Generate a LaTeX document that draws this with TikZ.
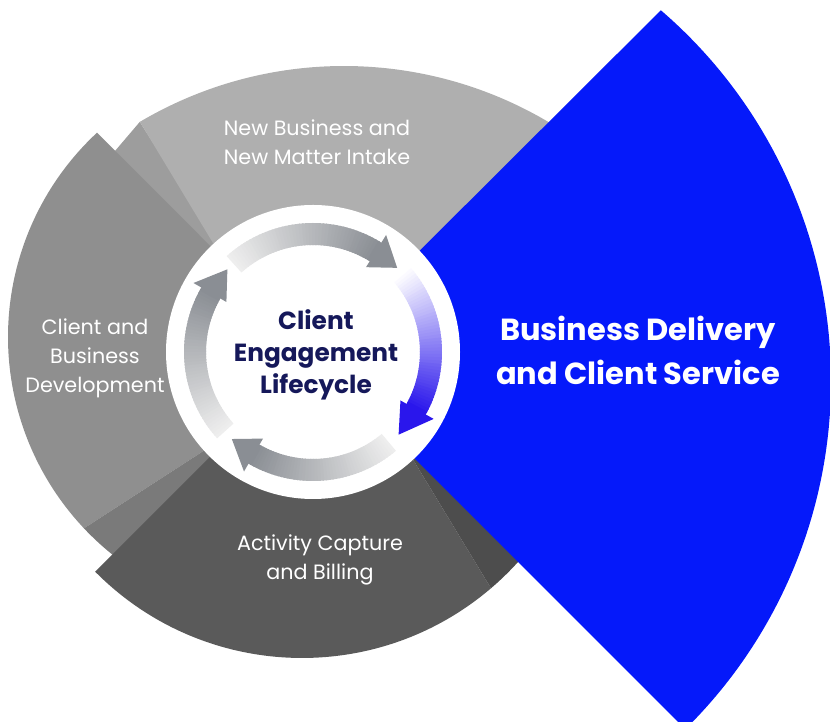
\documentclass[tikz,border=0pt]{standalone}
\usepackage{fontspec}
\setmainfont{Poppins}
\definecolor{segtop}{HTML}{AFAFAF}
\definecolor{segtopside}{HTML}{9D9D9D}
\definecolor{segleft}{HTML}{8F8F8F}
\definecolor{segleftside}{HTML}{7A7A7A}
\definecolor{segbottom}{HTML}{5A5A5A}
\definecolor{segbottomside}{HTML}{4D4D4D}
\definecolor{segblue}{HTML}{0519FA}
\definecolor{navytext}{HTML}{15185A}
\definecolor{arrowgrey}{HTML}{8A8E94}
\definecolor{arrowlight}{HTML}{EEEEEE}
\definecolor{arrowblue}{HTML}{2A16EC}
% #1 tail angle, #2 head base angle, #3 tip angle, #4 tail colour, #5 head colour
\newcommand{\ringband}[5]{%
  \foreach \k in {0,...,47}{%
    \pgfmathsetmacro{\angA}{(#1)+((#2)-(#1))*\k/48}%
    \pgfmathsetmacro{\angB}{(#1)+((#2)-(#1))*(\k+1.5)/48}%
    \pgfmathtruncatemacro{\pct}{100*\k/47}%
    \fill[#5!\pct!#4] (\angA:129) arc[start angle=\angA,end angle=\angB,radius=129]
      -- (\angB:107) arc[start angle=\angB,end angle=\angA,radius=107] -- cycle;
  }%
  \fill[#5] (#2:100) -- (#3:119) -- (#2:138) -- cycle;
}
\tikzset{
  seglabel/.style={text=white, align=center, font={\fontsize{20.7}{29}\selectfont}},
  centerlabel/.style={text=navytext, align=center, font={\bfseries\fontsize{24.8}{32}\selectfont}},
  bluelabel/.style={text=white, align=center, font={\bfseries\fontsize{30.5}{44}\selectfont}}
}
\begin{document}
\begin{tikzpicture}[x=1pt,y=1pt]
\useasboundingbox (0,0) rectangle (830,722);
\clip (0,0) rectangle (830,722);
\coordinate (O) at (313,368);
\coordinate (R) at (313,370);
\coordinate (TC) at (344,255);
\coordinate (LC) at (287,385);
\coordinate (BC) at (302,355);
\coordinate (BLC) at (342,341);

% upper-left side face
\fill[segtopside] (115,571) -- (139.8,600.1) -- (290,362) -- cycle;
% top segment
\fill[segtop] (280,368) -- ([shift={(TC)}]120.6:401) arc[start angle=120.6,end angle=50,radius=401] -- (O) -- cycle;
% left segment
\fill[segleft] (313,373) -- ([shift={(LC)}]132.9:279) arc[start angle=132.9,end angle=223.3,radius=279] -- (313,342) -- cycle;
% lower-left side face
\fill[segleftside] (313,342) -- ([shift={(LC)}]223.3:279) arc[start angle=223.3,end angle=232,radius=279] -- (O) -- cycle;
% bottom segment
\fill[segbottom] (O) -- ([shift={(BC)}]224.7:291) arc[start angle=224.7,end angle=310.5,radius=291] -- (349,368) -- cycle;
% lower-right side face
\fill[segbottomside] (349,368) -- ([shift={(BC)}]310.5:291) arc[start angle=310.5,end angle=322,radius=291] -- (O) -- cycle;
% blue segment
\fill[segblue] (313,365) -- ([shift={(BLC)}]49.3:489) arc[start angle=49.3,end angle=-45.4,radius=489] -- cycle;

% white hub
\fill[white] (R) circle[radius=147];

% cycle arrows
\begin{scope}[shift={(313,370)}]
  \ringband{132}{58}{45}{arrowlight}{arrowgrey}
  \ringband{42}{-29}{-44}{white}{arrowblue}
  \ringband{-50}{-120}{-133}{arrowlight}{arrowgrey}
  \ringband{222}{150}{136}{arrowlight}{arrowgrey}
\end{scope}

% labels
\node[seglabel] (newbiz) at (317,580) {New Business and\\New Matter Intake};
\node[seglabel] (clientdev) at (95,364) {Client and\\Business\\Development};
\node[seglabel] (activity) at (320,162) {Activity Capture\\and Billing};
\node[centerlabel] (lifecycle) at (316,367) {Client\\Engagement\\Lifecycle};
\node[bluelabel] (delivery) at (638,372) {Business Delivery\\and Client Service};
\end{tikzpicture}
\end{document}
